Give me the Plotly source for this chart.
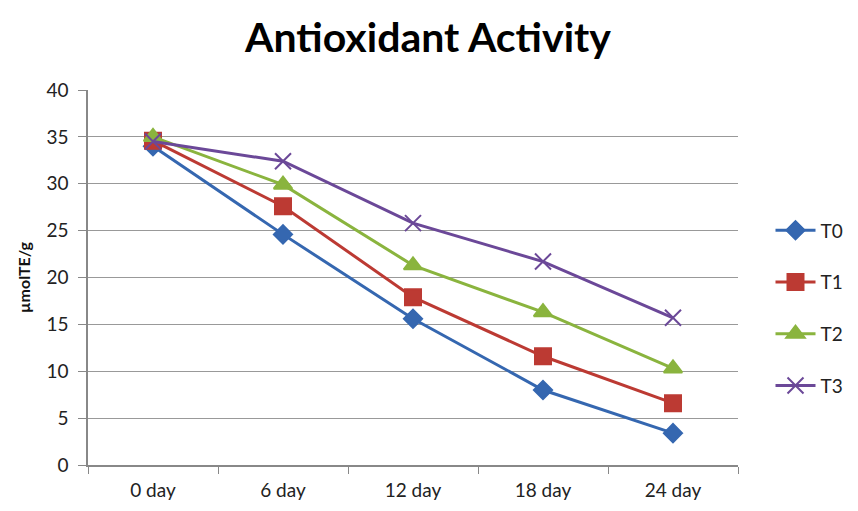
import plotly.graph_objects as go

days = ["0 day", "6 day", "12 day", "18 day", "24 day"]
T0 = [34.0, 24.6, 15.6, 8.0, 3.4]
T1 = [34.6, 27.6, 17.9, 11.6, 6.6]
T2 = [35.0, 29.9, 21.3, 16.3, 10.3]
T3 = [34.5, 32.4, 25.8, 21.7, 15.7]
y_ticks = [0, 5, 10, 15, 20, 25, 30, 35, 40]

series = [
    ("T0", T0, "#3567B0", "diamond", 14),
    ("T1", T1, "#BC3A33", "square", 16),
    ("T2", T2, "#8AB43E", "triangle-up", 16),
    ("T3", T3, "#6B4898", "x-thin-open", 16),
]

fig = go.Figure()
for i, (name, vals, col, sym, sz) in enumerate(series):
    fig.add_trace(go.Scatter(
        x=days, y=vals, name=name, mode="lines+markers",
        legendgroup=name,
        line=dict(color=col, width=3),
        marker=dict(symbol=sym, size=sz, color=col,
                    line=dict(color=col, width=2)),
    ))

font_family = "Lato, 'Open Sans', sans-serif"
fig.update_layout(
    width=858, height=511,
    paper_bgcolor="white", plot_bgcolor="white",
    margin=dict(l=80, r=128, t=82, b=54),
    title=dict(text="<b>Antioxidant Activity</b>", x=(428 - 8) / 858, xanchor="center",
               y=0.941, yanchor="middle",
               font=dict(family=font_family, size=41, color="black")),
    font=dict(family=font_family, size=19, color="#222"),
    legend=dict(x=1.05, y=0.676, xanchor="left", yanchor="top",
                traceorder="grouped", tracegroupgap=24,
                font=dict(size=19, color="#222"), itemwidth=40),
    xaxis=dict(
        type="category", range=[-0.5, 4.5],
        showline=True, linecolor="#888", linewidth=1.5,
        ticks="outside", tickson="boundaries", ticklen=7, tickcolor="#888",
        showgrid=False, tickfont=dict(size=19, color="#222"),
        ticklabelstandoff=7,
    ),
    yaxis=dict(
        range=[0, 40], tickvals=y_ticks,
        showline=True, linecolor="#888", linewidth=1.5,
        ticks="outside", ticklen=8, tickcolor="#888",
        showgrid=True, gridcolor="#999", gridwidth=1.2,
        zeroline=False, tickfont=dict(size=19, color="#222"),
        ticklabelstandoff=6,
        title=dict(text="<b>µmolTE/g</b>", font=dict(size=16, color="#111"),
                   standoff=12),
    ),
)

fig.write_html("out.html")
